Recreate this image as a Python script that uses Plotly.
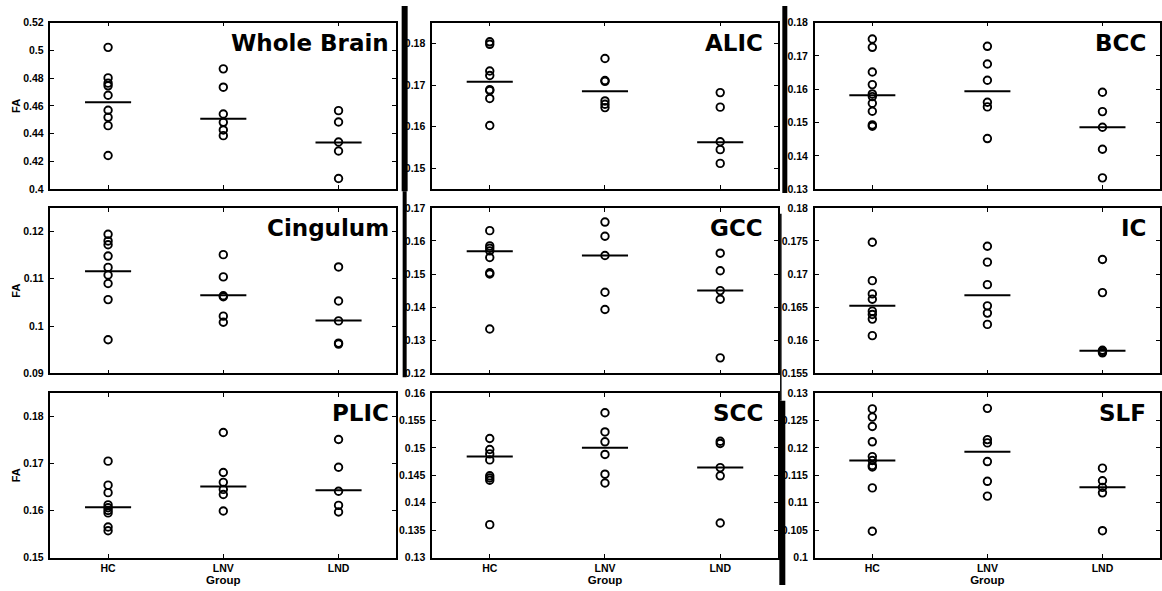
import plotly.graph_objects as go

W, H = 1162, 591

groups = ["HC", "LNV", "LND"]
regions = ["Whole Brain", "ALIC", "BCC", "Cingulum", "GCC", "IC", "PLIC", "SCC", "SLF"]

# ---- data (FA values per subject) ----
wb_hc = [0.5022, 0.4802, 0.4764, 0.4745, 0.4677, 0.4569, 0.4518, 0.4458, 0.4243]
wb_lnv = [0.4867, 0.4735, 0.4542, 0.4482, 0.4427, 0.4386]
wb_lnd = [0.4566, 0.4484, 0.4340, 0.4275, 0.4077]
wb_mean = [0.4627, 0.4508, 0.4337]

alic_hc = [0.1804, 0.1798, 0.1734, 0.1723, 0.1689, 0.1687, 0.1668, 0.1603]
alic_lnv = [0.1764, 0.1711, 0.1709, 0.1662, 0.1654, 0.1646]
alic_lnd = [0.1682, 0.1647, 0.1564, 0.1545, 0.1512]
alic_mean = [0.1708, 0.1685, 0.1563]

bcc_hc = [0.1751, 0.1726, 0.1652, 0.1614, 0.1586, 0.1578, 0.1558, 0.1534, 0.1493, 0.1489]
bcc_lnv = [0.1729, 0.1676, 0.1627, 0.1561, 0.1547, 0.1452]
bcc_lnd = [0.1591, 0.1533, 0.1486, 0.1420, 0.1334]
bcc_mean = [0.1582, 0.1594, 0.1486]

cing_hc = [0.1194, 0.1180, 0.1172, 0.1148, 0.1124, 0.1108, 0.1090, 0.1056, 0.0971]
cing_lnv = [0.1151, 0.1104, 0.1064, 0.1062, 0.1021, 0.1008]
cing_lnd = [0.1125, 0.1053, 0.1011, 0.0964, 0.0962]
cing_mean = [0.1116, 0.1065, 0.1012]

gcc_hc = [0.1631, 0.1585, 0.1578, 0.1570, 0.1550, 0.1504, 0.1500, 0.1334]
gcc_lnv = [0.1657, 0.1614, 0.1556, 0.1445, 0.1393]
gcc_lnd = [0.1563, 0.1510, 0.1450, 0.1424, 0.1247]
gcc_mean = [0.1569, 0.1556, 0.1450]

ic_hc = [0.1748, 0.1690, 0.1670, 0.1662, 0.1644, 0.1639, 0.1632, 0.1607]
ic_lnv = [0.1742, 0.1718, 0.1684, 0.1652, 0.1641, 0.1624]
ic_lnd = [0.1722, 0.1672, 0.1585, 0.1583, 0.1581]
ic_mean = [0.1652, 0.1668, 0.1584]

plic_hc = [0.1705, 0.1654, 0.1638, 0.1612, 0.1606, 0.1600, 0.1595, 0.1565, 0.1557]
plic_lnv = [0.1766, 0.1681, 0.1660, 0.1645, 0.1634, 0.1599]
plic_lnd = [0.1751, 0.1692, 0.1641, 0.1611, 0.1597]
plic_mean = [0.1607, 0.1651, 0.1643]

scc_hc = [0.1517, 0.1497, 0.1489, 0.1478, 0.1449, 0.1445, 0.1441, 0.1360]
scc_lnv = [0.1564, 0.1529, 0.1511, 0.1488, 0.1452, 0.1436]
scc_lnd = [0.1512, 0.1508, 0.1464, 0.1449, 0.1363]
scc_mean = [0.1484, 0.1500, 0.1464]

slf_hc = [0.1271, 0.1256, 0.1239, 0.1211, 0.1184, 0.1177, 0.1168, 0.1165, 0.1127, 0.1048]
slf_lnv = [0.1272, 0.1215, 0.1209, 0.1175, 0.1139, 0.1112]
slf_lnd = [0.1163, 0.1140, 0.1128, 0.1118, 0.1049]
slf_mean = [0.1177, 0.1193, 0.1128]

y_ticks_step = [0.02, 0.01, 0.01, 0.01, 0.01, 0.005, 0.01, 0.005, 0.005]

panels = [
    (wb_hc, wb_lnv, wb_lnd, wb_mean),
    (alic_hc, alic_lnv, alic_lnd, alic_mean),
    (bcc_hc, bcc_lnv, bcc_lnd, bcc_mean),
    (cing_hc, cing_lnv, cing_lnd, cing_mean),
    (gcc_hc, gcc_lnv, gcc_lnd, gcc_mean),
    (ic_hc, ic_lnv, ic_lnd, ic_mean),
    (plic_hc, plic_lnv, plic_lnd, plic_mean),
    (scc_hc, scc_lnv, scc_lnd, scc_mean),
    (slf_hc, slf_lnv, slf_lnd, slf_mean),
]
y_ranges = [
    [0.4, 0.52], [0.145, 0.185], [0.13, 0.18],
    [0.09, 0.125], [0.12, 0.17], [0.155, 0.18],
    [0.15, 0.185], [0.13, 0.16], [0.1, 0.13],
]

# ---- layout geometry (pixels) ----
col_px = [(50.5, 396.5), (432.5, 778.5), (815.5, 1161.0)]
row_px = [(17, 187), (206, 375), (395, 563)]
group_pos = [1, 2, 3]

fig = go.Figure()
layout = dict(
    width=W, height=H,
    margin=dict(l=0, r=0, t=0, b=0),
    paper_bgcolor="white", plot_bgcolor="white",
    showlegend=False,
    font=dict(family="Liberation Sans, Arial, sans-serif", color="black"),
)

annotations = []
title_xpos = [0.985, 0.962, 0.964]
tick_font = dict(size=10.5, weight="bold", family="Liberation Sans, Arial")

for k, (name, data) in enumerate(zip(regions, panels)):
    r, c = divmod(k, 3)
    n = k + 1
    xa = "x" if n == 1 else f"x{n}"
    ya = "y" if n == 1 else f"y{n}"
    xkey = "xaxis" if n == 1 else f"xaxis{n}"
    ykey = "yaxis" if n == 1 else f"yaxis{n}"

    for gi in range(3):
        vals = data[gi]
        fig.add_trace(go.Scatter(
            x=[group_pos[gi]] * len(vals), y=vals, mode="markers",
            xaxis=xa, yaxis=ya,
            marker=dict(symbol="circle-open", size=7.5, color="black",
                        line=dict(color="black", width=1.9)),
            hoverinfo="y",
        ))
    means = data[3]
    for gi in range(3):
        fig.add_trace(go.Scatter(
            x=[group_pos[gi] - 0.2, group_pos[gi] + 0.2], y=[means[gi], means[gi]],
            mode="lines", xaxis=xa, yaxis=ya,
            line=dict(color="black", width=2),
            hoverinfo="skip",
        ))

    x0, x1 = col_px[c]
    y0, y1 = row_px[r]
    last_row = (r == 2)
    layout[xkey] = dict(
        domain=[x0 / W, x1 / W], anchor=ya,
        range=[0.5, 3.5], tickvals=group_pos, ticktext=groups,
        showline=True, linecolor="black", linewidth=1.5, mirror="ticks",
        ticks="inside", ticklen=4, tickwidth=1.2, tickcolor="black",
        showgrid=False, zeroline=False,
        showticklabels=last_row,
        tickfont=tick_font,
        title=dict(text="Group" if last_row else "",
                   font=dict(size=11.5, weight="bold", family="Liberation Sans, Arial"),
                   standoff=2),
    )
    layout[ykey] = dict(
        domain=[1 - y1 / H, 1 - y0 / H], anchor=xa,
        range=y_ranges[k], dtick=y_ticks_step[k], tick0=0,
        showline=True, linecolor="black", linewidth=1.5, mirror="ticks",
        ticks="inside", ticklen=4, tickwidth=1.2, tickcolor="black",
        showgrid=False, zeroline=False,
        tickfont=tick_font,
        ticklabelstandoff=3,
        title=dict(text="FA" if c == 0 else "",
                   font=dict(size=11, weight="bold", family="Liberation Sans, Arial"),
                   standoff=0),
    )
    annotations.append(dict(
        text=f"<b>{name}</b>", xref=f"{xa} domain", yref=f"{ya} domain",
        x=title_xpos[c], y=0.97, xanchor="right", yanchor="top",
        showarrow=False,
        font=dict(size=23, family="DejaVu Sans, Verdana, sans-serif", color="black"),
    ))

layout["annotations"] = annotations


def rect(x0, x1, y0, y1):
    return dict(type="rect", xref="paper", yref="paper",
                x0=x0 / W, x1=x1 / W, y0=1 - y1 / H, y1=1 - y0 / H,
                fillcolor="black", line=dict(width=0), layer="above")


layout["shapes"] = [
    rect(402, 408, 0, 189),
    rect(403, 407, 189, 379),
    rect(783, 788, 0, 191),
    dict(type="line", xref="paper", yref="paper",
         x0=781.5 / W, x1=781.5 / W, y0=1 - 403 / H, y1=1 - 212 / H,
         line=dict(color="black", width=1.5)),
    rect(780, 786, 403, 591),
]

fig.update_layout(**layout)
fig.write_html("out.html",
               config={"displayModeBar": False},
               post_script="document.body.style.margin='0';document.body.style.overflow='hidden';")
